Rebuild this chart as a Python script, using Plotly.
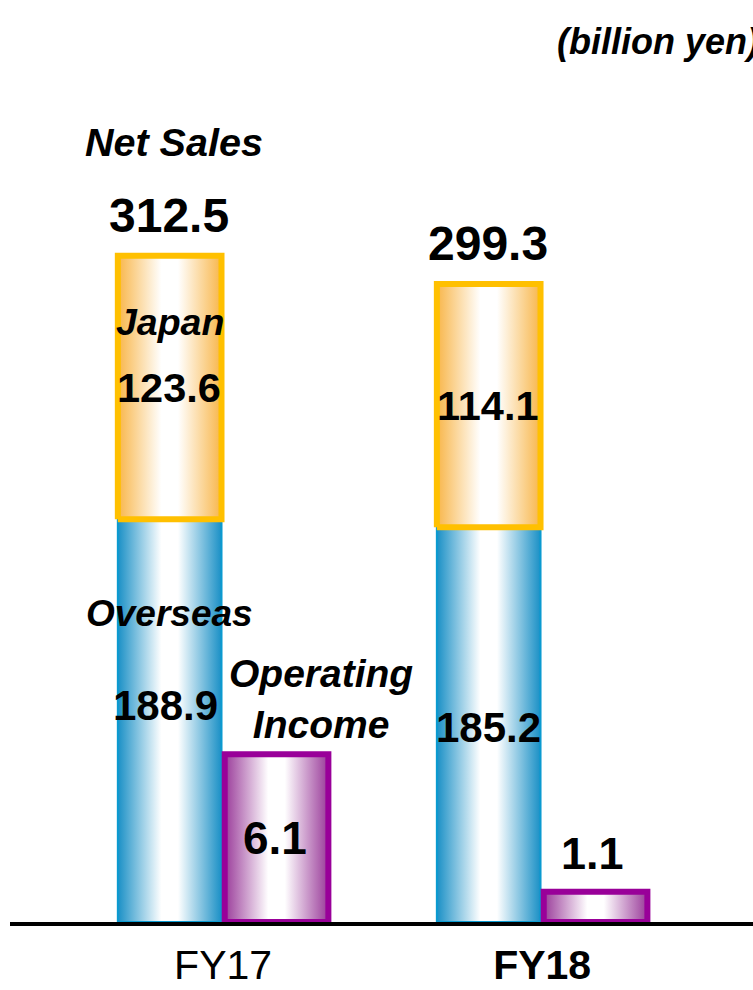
import plotly.graph_objects as go

# Fiscal years and segment values (billion yen)
years = ["FY17", "FY18"]
year_labels = ["FY17", "<b>FY18</b>"]
overseas = [188.9, 185.2]
japan = [123.6, 114.1]
net_sales = [312.5, 299.3]
operating_income = [6.1, 1.1]

FONT = "Liberation Sans, Arial, sans-serif"
BAR_W = 0.325
GAP = 0.005

BLUE_EDGE, BLUE_LINE = "#1a90c6", "#0a9ad0"
GOLD_EDGE, GOLD_LINE = "#f8b64a", "#ffc000"
PURP_EDGE, PURP_LINE = "#9a3c9a", "#990099"


def gradient(edge):
    return dict(type="horizontal",
                colorscale=[[0, edge], [0.42, "#ffffff"], [0.58, "#ffffff"], [1, edge]])


def rect(x0, x1, y0, y1, edge, line, lw, yaxis="y"):
    return go.Scatter(
        x=[x0, x1, x1, x0, x0], y=[y0, y0, y1, y1, y0],
        mode="lines", fill="toself", fillgradient=gradient(edge),
        line=dict(color=line, width=lw), hoverinfo="skip",
        showlegend=False, yaxis=yaxis,
    )


fig = go.Figure()
centers = list(range(len(years)))

# Net sales: overseas at the bottom, Japan stacked on top
for c, ov in zip(centers, overseas):
    fig.add_trace(rect(c - GAP - BAR_W, c - GAP, 0, ov, BLUE_EDGE, BLUE_LINE, 2))
for c, ov, jp in zip(centers, overseas, japan):
    fig.add_trace(rect(c - GAP - BAR_W, c - GAP, ov, ov + jp, GOLD_EDGE, GOLD_LINE, 6))
# Operating income on its own scale
for c, oi in zip(centers, operating_income):
    fig.add_trace(rect(c + GAP, c + GAP + BAR_W, 0, oi, PURP_EDGE, PURP_LINE, 6, yaxis="y2"))

ann = []


def label(text, x, y, size, yref="y", yanchor="middle", yshift=0, xshift=0, italic=False):
    t = f"<b><i>{text}</i></b>" if italic else f"<b>{text}</b>"
    ann.append(dict(text=t, x=x, y=y, xref="x", yref=yref, showarrow=False,
                    yanchor=yanchor, yshift=yshift, xshift=xshift,
                    font=dict(family=FONT, size=size, color="black")))


ns_mid = -GAP - BAR_W / 2
oi_mid = GAP + BAR_W / 2
for c, ov, jp, tot in zip(centers, overseas, japan, net_sales):
    label(f"{tot:.1f}", c + ns_mid, tot, 48, yanchor="bottom", yshift=12, xshift=-1)
    label(f"{jp:.1f}", c + ns_mid, ov + jp / 2, 41.5, xshift=-1)
    label(f"{ov:.1f}", c + ns_mid, ov / 2, 42, yshift=15 if c == 0 else -3,
          xshift=-4 if c == 0 else 0)

for c, oi in zip(centers, operating_income):
    if oi > 3:
        label(f"{oi:.1f}", c + oi_mid, oi / 2, 46, yref="y2", xshift=-2)
    else:
        label(f"{oi:.1f}", c + oi_mid, oi, 45, yref="y2", yanchor="bottom", yshift=11, xshift=-3)

label("Net Sales", -0.155, net_sales[0], 39.5, yanchor="bottom", yshift=90, italic=True)
label("Japan", ns_mid, overseas[0] + japan[0] / 2, 37.5, yshift=66, italic=True)
label("Overseas", ns_mid, overseas[0] / 2, 37, yshift=107, italic=True)
label("Operating<br>Income", 0.307, operating_income[0], 39,
      yref="y2", yanchor="bottom", yshift=6, italic=True)

ann.append(dict(text="<b><i>(billion yen)</i></b>", x=(555 - 10) / 743, y=1 - 42 / 922,
                xref="paper", yref="paper", xanchor="left", yanchor="middle",
                showarrow=False, font=dict(family=FONT, size=36, color="black")))

fig.update_layout(
    width=753, height=990,
    margin=dict(l=10, r=0, t=0, b=68),
    paper_bgcolor="white", plot_bgcolor="white",
    annotations=ann,
    xaxis=dict(range=[-0.668, 1.661], tickvals=centers, ticktext=year_labels,
               showgrid=False, zeroline=False, showline=True, linecolor="black",
               linewidth=4, ticks="", ticklabelstandoff=4, automargin=False,
               tickfont=dict(family=FONT, size=41, color="black"),
               fixedrange=True),
    yaxis=dict(range=[0, 922 / 2.132], visible=False, fixedrange=True, automargin=False),
    yaxis2=dict(range=[0, 922 / 27.5], overlaying="y", visible=False, fixedrange=True,
                automargin=False),
)

fig.write_html("out.html")
